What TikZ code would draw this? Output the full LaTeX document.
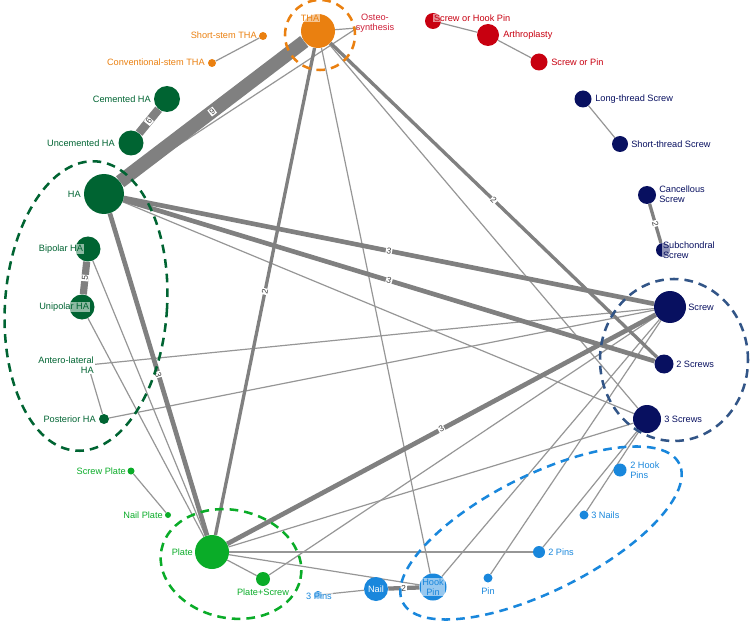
\documentclass[tikz,border=0pt]{standalone}
\usepackage{fontspec}
\setmainfont{Liberation Sans}
\usetikzlibrary{backgrounds}
\definecolor{cOr}{RGB}{234,128,16}
\definecolor{cDG}{RGB}{0,100,50}
\definecolor{cLG}{RGB}{10,172,40}
\definecolor{cNv}{RGB}{8,16,96}
\definecolor{cNvD}{RGB}{50,85,135}
\definecolor{cBl}{RGB}{25,135,220}
\definecolor{cRd}{RGB}{200,0,16}
\definecolor{cOst}{RGB}{205,30,55}
\definecolor{eDark}{RGB}{128,128,128}
\definecolor{eLight}{RGB}{150,150,150}
\newcommand\lblfont{\fontsize{6.9}{7.6}\selectfont}
\newcommand\elfont{\fontsize{6.4}{6.8}\selectfont}
\begin{document}
\begin{tikzpicture}[x=0.75pt,y=-0.75pt,
  dot/.style={circle,inner sep=0pt,draw=none},
  lab/.style={inner sep=0pt,font=\lblfont},
  ovl/.style={inner sep=0.6pt,fill=white,fill opacity=0.55,text opacity=1},
  ethin/.style={draw=eLight,line width=0.9pt},
  ew/.style={draw=eDark,line width=#1},
  elab/.style={sloped,fill=white,inner sep=0.6pt,font=\elfont,text=black!75},
  grp/.style={dash pattern=on 6.5pt off 4.5pt,line width=1.9pt}]
\useasboundingbox (0,0) rectangle (750,631);
% ---------- nodes ----------
\node[dot,fill=cOr,minimum size=25.5pt] (THA) at (318,31) {};
\coordinate (OST) at (357,28);
\node[dot,fill=cOr,minimum size=6pt] (SST) at (263,36) {};
\node[dot,fill=cOr,minimum size=6pt] (CST) at (212,63) {};
\node[dot,fill=cDG,minimum size=19.5pt] (CEM) at (167,99) {};
\node[dot,fill=cDG,minimum size=18.75pt] (UNC) at (131,143) {};
\node[dot,fill=cDG,minimum size=30pt] (HA) at (104,194) {};
\node[dot,fill=cDG,minimum size=18.75pt] (BIP) at (88,249) {};
\node[dot,fill=cDG,minimum size=18.75pt] (UNI) at (82,307) {};
\coordinate (ANT) at (88,365);
\node[dot,fill=cDG,minimum size=7.5pt] (POS) at (104,419) {};
\node[dot,fill=cLG,minimum size=5.25pt] (SPL) at (131,471) {};
\node[dot,fill=cLG,minimum size=4.5pt] (NPL) at (168,515) {};
\node[dot,fill=cLG,minimum size=25.5pt] (PL) at (212,552) {};
\node[dot,fill=cLG,minimum size=10.5pt] (PLS) at (263,579) {};
\node[dot,fill=cBl,minimum size=6pt] (P3) at (318,595) {};
\node[dot,fill=cBl,minimum size=18pt] (NAIL) at (376,589) {};
\node[dot,fill=cBl,minimum size=20.25pt] (HP) at (433,587) {};
\node[dot,fill=cBl,minimum size=6.75pt] (PIN) at (488,578) {};
\node[dot,fill=cBl,minimum size=9pt] (P2) at (539,552) {};
\node[dot,fill=cBl,minimum size=6.75pt] (N3) at (584,515) {};
\node[dot,fill=cBl,minimum size=9.75pt] (HP2) at (620,470) {};
\node[dot,fill=cNv,minimum size=21pt] (S3) at (647,419) {};
\node[dot,fill=cNv,minimum size=14.25pt] (S2) at (664,364) {};
\node[dot,fill=cNv,minimum size=24pt] (SC) at (670,307) {};
\node[dot,fill=cNv,minimum size=10.5pt] (SUB) at (663,250) {};
\node[dot,fill=cNv,minimum size=13.5pt] (CAN) at (647,195) {};
\node[dot,fill=cNv,minimum size=12pt] (STS) at (620,144) {};
\node[dot,fill=cNv,minimum size=12.75pt] (LTS) at (583,99) {};
\node[dot,fill=cRd,minimum size=12pt] (SHP) at (433,21) {};
\node[dot,fill=cRd,minimum size=16.5pt] (ART) at (488,35) {};
\node[dot,fill=cRd,minimum size=12.75pt] (SOP) at (539,62) {};
% ---------- edges ----------
\begin{pgfonlayer}{background}
\draw[ethin] (THA) -- (OST);
\draw[ethin] (OST) -- (HA);
\draw[ethin] (CST) -- (SST);
\draw[ethin] (THA) -- (S3);
\draw[ethin] (THA) -- (HP);
\draw[ethin] (HA) -- (S3);
\draw[ethin] (ANT) -- (SC);
\draw[ethin] (ANT) -- (POS);
\draw[ethin] (POS) -- (SC);
\draw[ethin] (BIP) -- (PL);
\draw[ethin] (UNI) -- (PL);
\draw[ethin] (SPL) -- (NPL);
\draw[ethin] (PL) -- (PLS);
\draw[ethin] (PLS) -- (SC);
\draw[ethin] (PL) -- (P2);
\draw[ethin] (PL) -- (HP);
\draw[ethin] (PL) -- (S3);
\draw[ethin] (NAIL) -- (P3);
\draw[ethin] (HP) -- (SC);
\draw[ethin] (PIN) -- (SC);
\draw[ethin] (P2) -- (S3);
\draw[ethin] (N3) -- (S3);
\draw[ethin] (LTS) -- (STS);
\draw[ethin] (SHP) -- (ART);
\draw[ethin] (ART) -- (SOP);
\draw[ew=10.2pt] (THA) -- node[elab]{9} (HA);
\draw[ew=6.4pt] (CEM) -- node[elab]{6} (UNC);
\draw[ew=5.4pt] (BIP) -- node[elab]{5} (UNI);
\draw[ew=3.5pt] (HA) -- node[elab]{3} (PL);
\draw[ew=3.5pt] (HA) -- node[elab]{3} (SC);
\draw[ew=3.5pt] (HA) -- node[elab]{3} (S2);
\draw[ew=3.5pt] (PL) -- node[elab]{3} (SC);
\draw[ew=2.5pt] (THA) -- node[elab]{2} (PL);
\draw[ew=2.5pt] (THA) -- node[elab]{2} (S2);
\draw[ew=3.2pt] (NAIL) -- node[elab]{2} (HP);
\draw[ew=2.5pt] (CAN) -- node[elab]{2} (SUB);
\end{pgfonlayer}
% ---------- groups ----------
\draw[grp,cOr] (320,35) circle [radius=26.25pt];
\draw[grp,cDG,rotate around={-4:(86,306)}] (86,306) ellipse [x radius=60.75pt,y radius=108.75pt];
\draw[grp,cNvD] (674,360) ellipse [x radius=55.5pt,y radius=60.75pt];
\draw[grp,cBl,rotate around={26.6:(541,533)}] (541,533) ellipse [x radius=116pt,y radius=43.5pt];
\draw[grp,cLG,rotate around={-12:(231,564)}] (231,564) ellipse [x radius=53.25pt,y radius=40.5pt];
% ---------- labels ----------
\node[lab,ovl,text=cOr] (tTHA) at (310,18) {THA};
\node[lab,text=cOst,align=center] (tOST) at (375,23) {Osteo-\\synthesis};
\node[lab,text=cOr,anchor=east] (tSST) at (257,35) {Short-stem THA};
\node[lab,text=cOr,anchor=east] (tCST) at (205,62) {Conventional-stem THA};
\node[lab,text=cDG,anchor=east] (tCEM) at (151,99) {Cemented HA};
\node[lab,text=cDG,anchor=east] (tUNC) at (115,143) {Uncemented HA};
\node[lab,text=cDG,anchor=east] (tHA) at (81,194) {HA};
\node[lab,ovl,text=cDG,anchor=east] (tBIP) at (84,249) {Bipolar HA};
\node[lab,ovl,text=cDG,anchor=east] (tUNI) at (90,307) {Unipolar HA};
\node[lab,fill=white,text=cDG,anchor=east,align=right,inner sep=0.8pt] (tANT) at (95,365) {Antero-lateral\\HA};
\node[lab,text=cDG,anchor=east] (tPOS) at (96,419) {Posterior HA};
\node[lab,text=cLG,anchor=east] (tSPL) at (126,471) {Screw Plate};
\node[lab,text=cLG,anchor=east] (tNPL) at (163,515) {Nail Plate};
\node[lab,text=cLG,anchor=east] (tPL) at (193,552) {Plate};
\node[lab,text=cLG] (tPLS) at (263,592) {Plate+Screw};
\node[lab,ovl,text=cBl] (tP3) at (319,596) {3 Pins};
\node[lab,text=white] (tNAIL) at (376,589) {Nail};
\node[lab,ovl,text=cBl,align=center] (tHP) at (433,587) {Hook\\Pin};
\node[lab,text=cBl] (tPIN) at (488,591) {Pin};
\node[lab,text=cBl,anchor=west] (tP2) at (548,552) {2 Pins};
\node[lab,text=cBl,anchor=west] (tN3) at (591,515) {3 Nails};
\node[lab,text=cBl,anchor=west,align=left] (tHP2) at (630,470) {2 Hook\\Pins};
\node[lab,text=cNv,anchor=west] (tS3) at (664,419) {3 Screws};
\node[lab,text=cNv,anchor=west] (tS2) at (676,364) {2 Screws};
\node[lab,text=cNv,anchor=west] (tSC) at (688,307) {Screw};
\node[lab,ovl,text=cNv,anchor=west,align=left] (tSUB) at (662,250) {Subchondral\\Screw};
\node[lab,text=cNv,anchor=west,align=left] (tCAN) at (659,194) {Cancellous\\Screw};
\node[lab,text=cNv,anchor=west] (tSTS) at (631,144) {Short-thread Screw};
\node[lab,text=cNv,anchor=west] (tLTS) at (595,99) {Long-thread Screw};
\node[lab,ovl,text=cRd,anchor=west] (tSHP) at (433,18) {Screw or Hook Pin};
\node[lab,text=cRd,anchor=west] (tART) at (503,35) {Arthroplasty};
\node[lab,text=cRd,anchor=west] (tSOP) at (551,62) {Screw or Pin};
\end{tikzpicture}
\end{document}
